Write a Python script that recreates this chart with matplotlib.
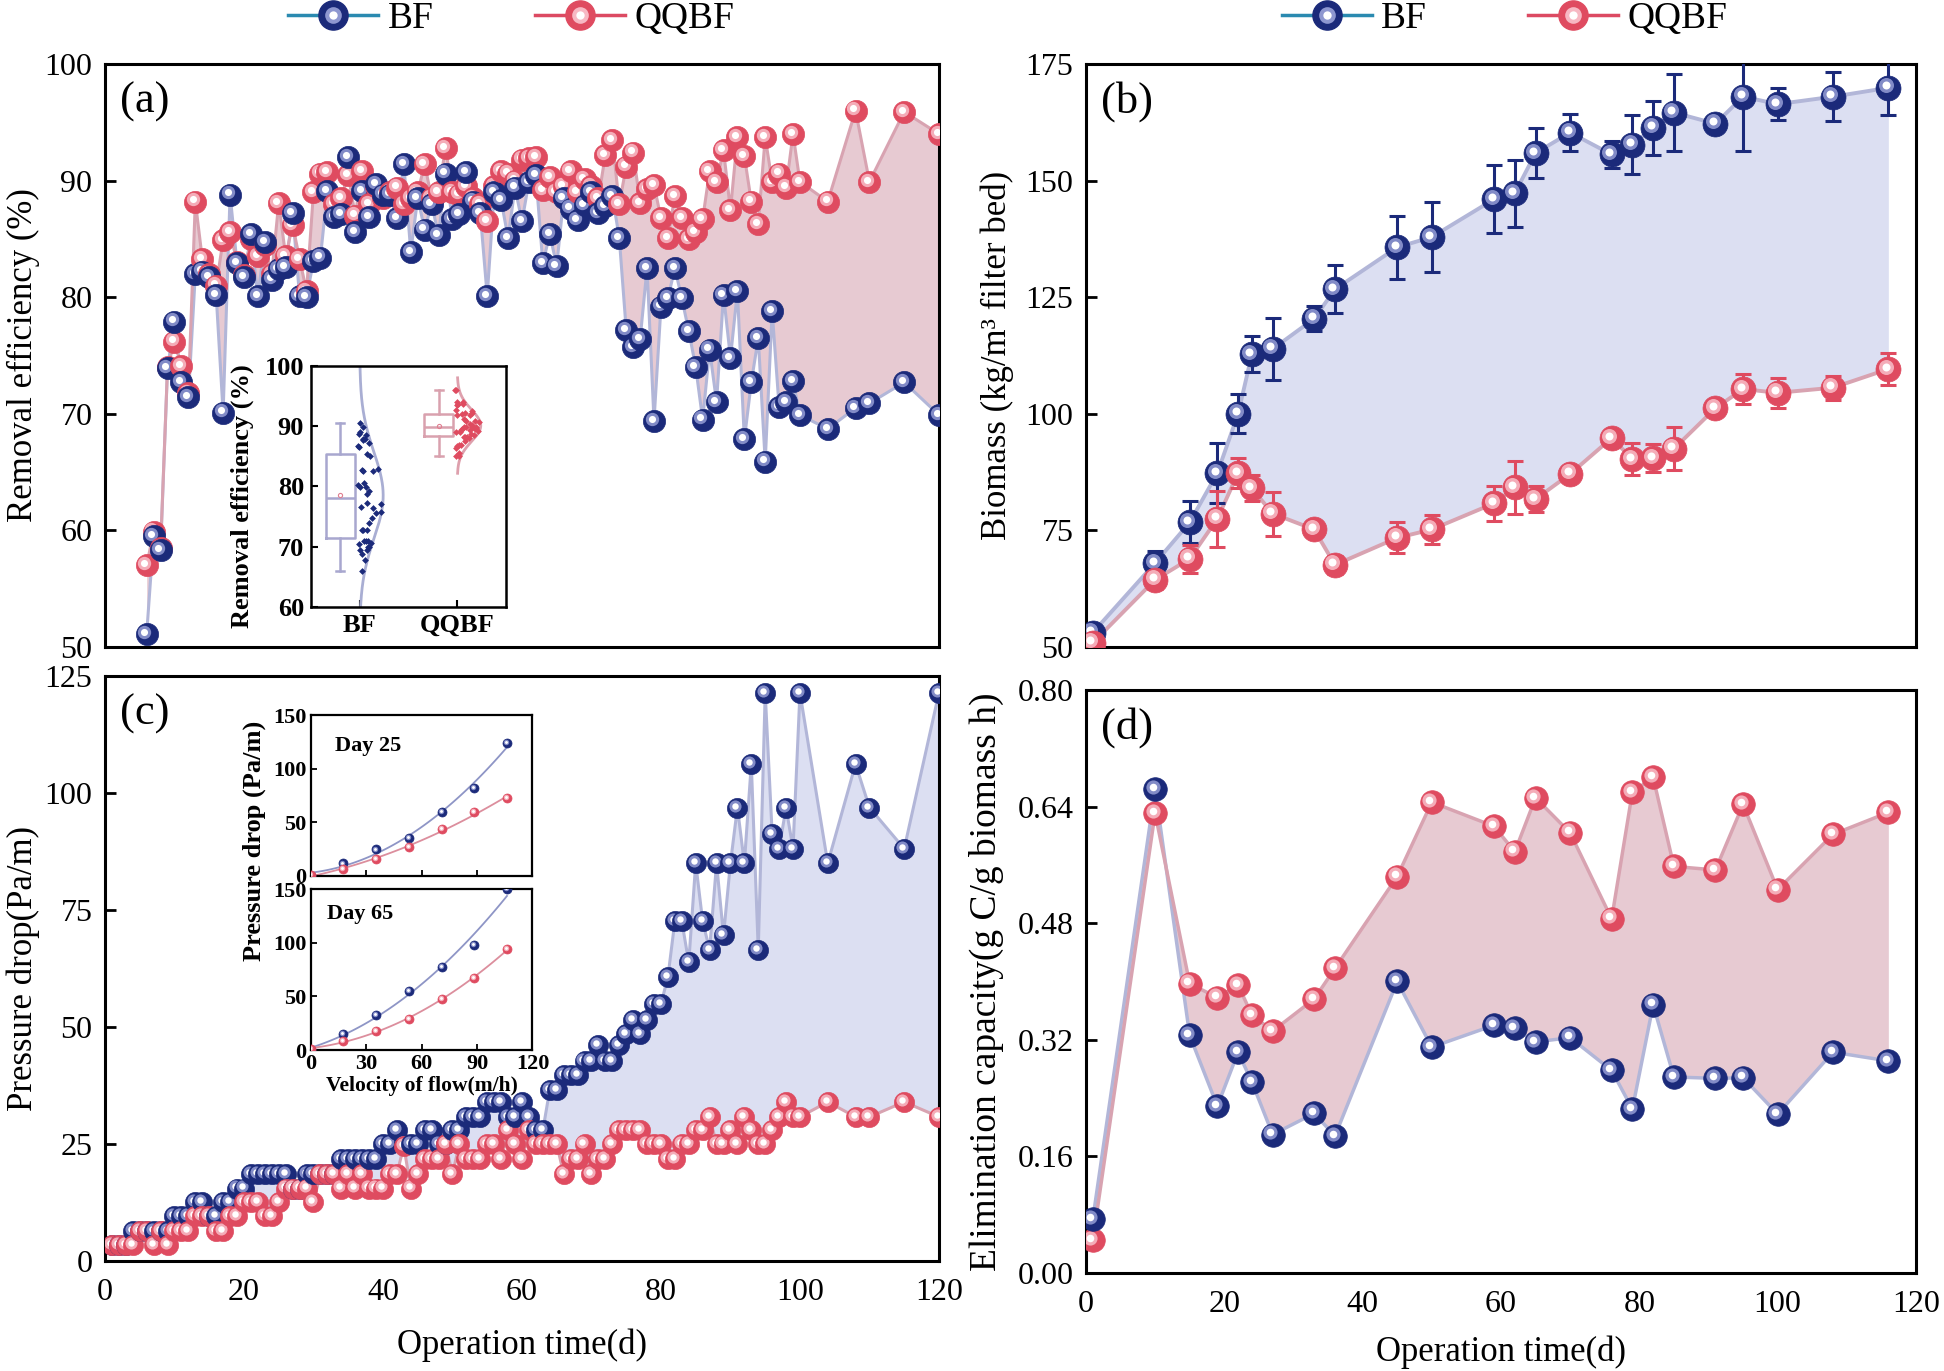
import numpy as np
import matplotlib.pyplot as plt
from matplotlib.transforms import offset_copy
from matplotlib.lines import Line2D
from matplotlib.legend_handler import HandlerTuple

plt.rcParams['font.family'] = ['Liberation Serif', 'DejaVu Serif']

# ---------------- data ----------------
# (a) removal efficiency (%)
days_a = list(range(6, 101)) + [104, 108, 110, 115, 120]
bf_a = [51.1, 59.5, 58.3, 73.9, 77.9, 72.7, 71.4, 82.0, 82.2, 81.7,
        80.2, 70.1, 88.8, 82.9, 81.7, 85.4, 80.1, 84.7, 81.5, 82.4,
        82.6, 87.2, 80.1, 80.0, 83.1, 83.4, 89.1, 86.9, 87.1, 92.0,
        85.6, 89.1, 86.9, 89.7, 88.8, 88.8, 86.8, 91.4, 83.9, 88.5,
        85.8, 88.0, 85.3, 90.6, 86.7, 87.1, 90.7, 88.2, 87.2, 80.1,
        89.0, 88.3, 85.1, 89.4, 86.5, 89.9, 90.5, 82.9, 85.4, 82.7,
        88.5, 87.6, 86.6, 87.9, 89.0, 87.2, 87.8, 88.7, 85.1, 77.2,
        75.7, 76.4, 82.5, 69.4, 79.2, 79.9, 82.5, 79.9, 77.1, 74.0,
        69.5, 75.5, 71.0, 80.2, 74.8, 80.5, 67.8, 72.7, 76.5, 65.9,
        78.8, 70.6, 71.0, 72.8, 69.9,
        68.7, 70.5, 70.9, 72.7, 69.9]
qq_a = [57.0, 59.9, 58.5, 74.0, 76.2, 74.1, 71.8, 88.2, 83.3, 82.0,
        81.0, 84.9, 85.6, 83.0, 81.9, 85.0, 83.5, 84.5, 82.0, 88.1,
        83.5, 86.2, 83.3, 80.5, 89.0, 90.6, 90.7, 88.0, 88.5, 90.5,
        87.0, 90.8, 88.0, 89.5, 88.5, 89.0, 89.4, 88.0, 88.5, 89.0,
        91.4, 88.5, 89.0, 92.8, 89.0, 88.8, 89.5, 88.5, 88.0, 86.5,
        89.5, 90.8, 90.6, 90.0, 91.8, 91.9, 92.0, 89.2, 90.3, 89.0,
        89.5, 90.8, 89.0, 90.1, 89.5, 88.5, 92.2, 93.5, 88.0, 91.2,
        92.4, 88.1, 89.3, 89.6, 86.8, 85.1, 88.7, 86.8, 85.0, 85.6,
        86.7, 90.8, 89.9, 92.6, 87.5, 93.7, 92.1, 88.2, 86.3, 93.7,
        89.9, 90.6, 89.4, 94.0, 89.9,
        88.2, 96.0, 89.9, 95.9, 94.0]

# (b) biomass and (d) elimination capacity
days_b = [1, 10, 15, 19, 22, 24, 27, 33, 36, 45, 50, 59, 62, 65, 70, 76, 79, 82,
          85, 91, 95, 100, 108, 116]
bf_b = [53.1, 68.0, 76.7, 87.3, 100.0, 112.8, 113.9, 120.4, 126.7, 135.7, 137.9,
        146.0, 147.3, 155.9, 160.3, 155.6, 157.7, 161.3, 164.6, 162.2, 168.0,
        166.4, 168.0, 169.9]
bf_b_err = [1.5, 2.5, 4.5, 6.5, 4.2, 3.8, 6.7, 2.7, 5.1, 6.8, 7.6, 7.3, 7.2, 5.4,
            4.0, 3.0, 6.3, 5.8, 8.2, 1.5, 11.6, 3.5, 5.3, 5.8]
qq_b = [50.9, 64.4, 68.9, 77.5, 87.3, 84.0, 78.6, 75.2, 67.6, 73.4, 75.2, 80.8,
        84.2, 81.7, 87.1, 94.8, 90.3, 90.5, 92.5, 101.2, 105.3, 104.5, 105.6, 109.6]
qq_b_err = [1.0, 2.0, 3.0, 6.0, 3.3, 2.8, 4.7, 1.0, 2.0, 3.3, 3.2, 3.8, 5.7, 2.8,
            1.5, 1.0, 3.4, 3.0, 4.6, 1.0, 3.2, 3.2, 2.6, 3.5]
bf_d = [0.074, 0.664, 0.326, 0.229, 0.303, 0.262, 0.190, 0.219, 0.188, 0.400,
        0.310, 0.340, 0.336, 0.317, 0.323, 0.278, 0.225, 0.368, 0.269, 0.267,
        0.268, 0.218, 0.303, 0.291]
qq_d = [0.045, 0.631, 0.397, 0.378, 0.395, 0.354, 0.332, 0.376, 0.418, 0.544,
        0.646, 0.613, 0.578, 0.652, 0.604, 0.486, 0.660, 0.680, 0.558, 0.553,
        0.643, 0.526, 0.602, 0.632]

# (c) pressure drop (Pa/m)
days_c = list(range(1, 101)) + [104, 108, 110, 115, 120]
bf_c = [3.4, 3.4, 3.4, 6.5, 6.5, 6.5, 6.5, 6.5, 6.5, 9.7,
        9.7, 9.7, 12.6, 12.6, 9.7, 9.7, 12.6, 12.6, 15.5, 15.5,
        18.6, 18.6, 18.6, 18.6, 18.6, 18.6, 15.5, 15.5, 18.6, 18.6,
        18.6, 18.6, 18.6, 21.8, 21.8, 21.8, 21.8, 21.8, 21.8, 25.0,
        25.0, 27.9, 25.0, 25.0, 25.0, 27.9, 27.9, 25.0, 25.0, 27.9,
        27.9, 30.8, 30.8, 30.8, 34.0, 34.0, 34.0, 30.8, 30.8, 34.0,
        30.8, 27.9, 27.9, 36.6, 36.6, 39.8, 39.8, 39.8, 42.7, 42.7,
        46.1, 42.7, 42.7, 46.1, 48.5, 51.5, 48.5, 51.5, 54.9, 54.9,
        60.7, 72.6, 72.6, 63.8, 85.0, 72.6, 66.5, 85.0, 69.6, 85.0,
        96.9, 85.0, 106.2, 66.5, 121.4, 91.3, 88.1, 96.9, 88.1, 121.4,
        85.0, 106.2, 96.9, 88.1, 121.4]
qq_c = [3.4, 3.4, 3.4, 3.4, 6.5, 6.5, 3.4, 6.5, 3.4, 6.5,
        6.5, 6.5, 9.7, 9.7, 9.7, 6.5, 6.5, 9.7, 9.7, 12.6,
        12.6, 12.6, 9.7, 9.7, 12.6, 15.5, 15.5, 15.5, 15.5, 12.6,
        18.6, 18.6, 18.6, 15.5, 18.6, 15.5, 18.6, 15.5, 15.5, 15.5,
        18.6, 18.6, 24.6, 15.5, 18.6, 21.8, 21.8, 21.8, 25.0, 18.6,
        25.0, 21.8, 21.8, 21.8, 25.0, 25.0, 21.8, 27.9, 25.0, 21.8,
        27.9, 25.0, 25.0, 25.0, 25.0, 18.6, 21.8, 21.8, 25.0, 18.6,
        21.8, 21.8, 25.0, 27.9, 27.9, 27.9, 27.9, 25.0, 25.0, 25.0,
        21.8, 21.8, 25.0, 25.0, 27.9, 27.9, 30.8, 25.0, 25.0, 27.9,
        25.0, 30.8, 27.9, 25.0, 25.0, 27.9, 30.8, 34.0, 30.8, 30.8,
        34.0, 30.8, 30.8, 34.0, 30.8]

# (c) insets: pressure drop vs velocity of flow
velocity = [0, 17.7, 35.4, 53.1, 70.8, 88.5, 106.2]
bf_day25 = [0.0, 11.5, 24.6, 35.5, 59.8, 81.6, 123.7]
qq_day25 = [0.6, 6.2, 15.3, 26.5, 43.6, 59.2, 72.3]
bf_day65 = [0.0, 14.9, 32.6, 55.3, 77.6, 97.8, 149.7]
qq_day65 = [0.6, 8.7, 18.0, 28.9, 47.2, 66.8, 94.1]

# ---------------- style ----------------
NAVY, NAVY_HI = '#1b2a7a', '#8e97d0'
RED, RED_HI = '#df4b60', '#f7b8c3'
BF_LINE, QQ_LINE = '#b2b6d8', '#d8a3b1'
PINK_FILL, BLUE_FILL = '#e7cad2', '#dcdff2'

fig = plt.figure(figsize=(19.44, 13.71), dpi=100)


def ball(ax, x, y, col, hi, ms, z=5):
    ax.plot([x], [y], 'o', ms=ms, mfc=col, mec=col, mew=0.5, zorder=z)
    t = offset_copy(ax.transData, fig=fig, x=-0.1 * ms, y=0.1 * ms, units='points')
    ax.plot([x], [y], 'o', ms=0.6 * ms, mfc=hi, mec='none', alpha=0.9,
            zorder=z, transform=t)
    ax.plot([x], [y], 'o', ms=0.32 * ms, mfc='white', mec='none', zorder=z,
            transform=t)


def style(ax, ylim, yticks, xlabels=False):
    ax.set_xlim(0, 120)
    ax.set_ylim(*ylim)
    ax.set_yticks(yticks)
    ax.set_xticks(range(0, 121, 20))
    ax.tick_params(axis='y', direction='in', length=8, width=2, labelsize=23, pad=9)
    ax.tick_params(axis='x', length=0, labelsize=23, pad=12, labelbottom=xlabels)
    for s in ax.spines.values():
        s.set_linewidth(2.2)


def bold_ticks(ax, size):
    for lab in ax.get_xticklabels() + ax.get_yticklabels():
        lab.set_fontweight('bold')
        lab.set_fontsize(size)


ax_a = fig.add_axes([0.0540, 0.5281, 0.4290, 0.4252])
ax_b = fig.add_axes([0.5586, 0.5281, 0.4270, 0.4252])
ax_c = fig.add_axes([0.0540, 0.0802, 0.4290, 0.4267])
ax_d = fig.add_axes([0.5586, 0.0715, 0.4270, 0.4252])

# ---- (a) ----
ax_a.fill_between(days_a, bf_a, qq_a, color=PINK_FILL, lw=0, zorder=1)
ax_a.plot(days_a, bf_a, color=BF_LINE, lw=2.2, zorder=2)
ax_a.plot(days_a, qq_a, color=QQ_LINE, lw=2.2, zorder=2)
for d, b, q in zip(days_a, bf_a, qq_a):
    ball(ax_a, d, q, RED, RED_HI, 16)
    ball(ax_a, d, b, NAVY, NAVY_HI, 16)
style(ax_a, (50, 100), range(50, 101, 10))
ax_a.set_ylabel('Removal efficiency (%)', fontsize=25)
ax_a.yaxis.set_label_coords(-0.078, 0.5)

ins = ax_a.inset_axes([0.247, 0.0686, 0.234, 0.414])
bf_late = np.array([v for d, v in zip(days_a, bf_a) if d >= 60])
qq_late = np.array([v for d, v in zip(days_a, qq_a) if d >= 60])
bp = ins.boxplot([bf_late, qq_late], positions=[0.3, 1.31], widths=0.3,
                 whis=(0, 100), showmeans=True, showfliers=False, capwidths=0.08,
                 meanprops=dict(marker='o', ms=3, mfc='none', mec='#e07f90', mew=0.8))
for i, c in enumerate(['#a8a7cf', '#d9a1ae']):
    for art in [bp['boxes'][i], bp['medians'][i], bp['whiskers'][2 * i],
                bp['whiskers'][2 * i + 1], bp['caps'][2 * i], bp['caps'][2 * i + 1]]:
        art.set_color(c)
        art.set_linewidth(1.8)
for vals, base, col, lc in ((bf_late, 0.5, NAVY, '#a9aed3'), (qq_late, 1.5, RED, '#dea0ad')):
    m, s = vals.mean(), vals.std()
    yy = np.linspace(m - 3 * s, m + 3 * s, 200)
    ins.plot(base + 0.24 * np.exp(-0.5 * ((yy - m) / s) ** 2), yy, color=lc, lw=2)
    u = (np.arange(len(vals)) * 0.618034 + 0.1) % 1
    xs = base - 0.02 + 0.26 * np.exp(-0.5 * ((vals - m) / s) ** 2) * u
    ins.scatter(xs, vals, marker='D', s=12, color=col, lw=0, zorder=3)
ins.set_xlim(0, 2)
ins.set_ylim(60, 100)
ins.set_xticks([0.5, 1.5], ['BF', 'QQBF'])
ins.set_yticks(range(60, 101, 10))
ins.tick_params(direction='in', length=5, width=1.5, pad=5)
bold_ticks(ins, 19)
for s in ins.spines.values():
    s.set_linewidth(1.8)
ins.set_ylabel('Removal efficiency (%)', fontsize=19, fontweight='bold')
ins.yaxis.set_label_coords(-0.29, 0.46)

# ---- (b) ----
ax_b.fill_between(days_b, bf_b, qq_b, color=BLUE_FILL, lw=0, zorder=1)
ax_b.plot(days_b, bf_b, color=BF_LINE, lw=2.8, zorder=2)
ax_b.plot(days_b, qq_b, color=QQ_LINE, lw=2.8, zorder=2)
ax_b.errorbar(days_b, bf_b, yerr=bf_b_err, fmt='none', ecolor=NAVY, elinewidth=2.2,
              capsize=6, capthick=2.2, zorder=3)
ax_b.errorbar(days_b, qq_b, yerr=qq_b_err, fmt='none', ecolor=RED, elinewidth=2.2,
              capsize=6, capthick=2.2, zorder=3)
for d, b in zip(days_b, bf_b):
    ball(ax_b, d, b, NAVY, NAVY_HI, 18)
for d, q in zip(days_b, qq_b):
    ball(ax_b, d, q, RED, RED_HI, 18)
style(ax_b, (50, 175), range(50, 176, 25))
ax_b.set_ylabel('Biomass (kg/m³ filter bed)', fontsize=25)
ax_b.yaxis.set_label_coords(-0.087, 0.5)

# ---- (c) ----
ax_c.fill_between(days_c, bf_c, qq_c, color=BLUE_FILL, lw=0, zorder=1)
ax_c.plot(days_c, bf_c, color=BF_LINE, lw=2.2, zorder=2)
ax_c.plot(days_c, qq_c, color=QQ_LINE, lw=2.2, zorder=2)
for d, b, q in zip(days_c, bf_c, qq_c):
    ball(ax_c, d, b, NAVY, NAVY_HI, 14.5)
    ball(ax_c, d, q, RED, RED_HI, 14.5)
style(ax_c, (0, 125), range(0, 126, 25), xlabels=True)
ax_c.set_ylabel('Pressure drop(Pa/m)', fontsize=25)
ax_c.yaxis.set_label_coords(-0.078, 0.5)
ax_c.set_xlabel('Operation time(d)', fontsize=25)
ax_c.xaxis.set_label_coords(0.5, -0.115)

xs_fit = np.linspace(0, 106.2, 100)
for pos, bfv, qqv, lab, ly, lx, bottom in (
        ([0.2466, 0.6586, 0.266, 0.2747], bf_day25, qq_day25, 'Day 25', 0.81, 0.11, False),
        ([0.2466, 0.3607, 0.266, 0.2752], bf_day65, qq_day65, 'Day 65', 0.845, 0.075, True)):
    ci = ax_c.inset_axes(pos)
    for vals, c in ((bfv, '#8e95c6'), (qqv, '#dc8e9d')):
        p = np.polyfit(velocity, vals, 2)
        ci.plot(xs_fit, np.polyval(p, xs_fit), color=c, lw=1.3)
    for v, b, q in zip(velocity, bfv, qqv):
        ball(ci, v, b, NAVY, NAVY_HI, 6.5)
        ball(ci, v, q, RED, RED_HI, 6.5)
    ci.set_xlim(0, 120)
    ci.set_ylim(0, 150)
    ci.set_xticks(range(0, 121, 30))
    ci.set_yticks(range(0, 151, 50))
    ci.tick_params(direction='in', length=4, width=1.3, pad=3, labelbottom=bottom)
    bold_ticks(ci, 16)
    for s in ci.spines.values():
        s.set_linewidth(1.6)
    ci.text(lx, ly, lab, transform=ci.transAxes, fontsize=16, fontweight='bold',
            va='center')
    if bottom:
        ci.set_xlabel('Velocity of flow(m/h)', fontsize=15.5, fontweight='bold',
                      labelpad=1)
fig.text(0.1307, 0.387, 'Pressure drop (Pa/m)', rotation=90, fontsize=19,
         fontweight='bold', ha='center', va='center')

# ---- (d) ----
ax_d.fill_between(days_b, bf_d, qq_d, color=PINK_FILL, lw=0, zorder=1)
ax_d.plot(days_b, bf_d, color=BF_LINE, lw=2.5, zorder=2)
ax_d.plot(days_b, qq_d, color=QQ_LINE, lw=2.5, zorder=2)
for d, b, q in zip(days_b, bf_d, qq_d):
    ball(ax_d, d, q, RED, RED_HI, 17)
    ball(ax_d, d, b, NAVY, NAVY_HI, 17)
style(ax_d, (0, 0.8), np.arange(0, 0.81, 0.16), xlabels=True)
ax_d.set_yticklabels([f'{v:.2f}' for v in np.arange(0, 0.81, 0.16)])
ax_d.set_ylabel('Elimination capacity(g C/g biomass h)', fontsize=27)
ax_d.yaxis.set_label_coords(-0.099, 0.5)
ax_d.set_xlabel('Operation time(d)', fontsize=25)
ax_d.xaxis.set_label_coords(0.5, -0.107)

for ax, lab in ((ax_a, '(a)'), (ax_b, '(b)'), (ax_c, '(c)'), (ax_d, '(d)')):
    ax.text(0.018, 0.935, lab, transform=ax.transAxes, fontsize=32, va='center')

# ---- legends ----
def handle(line_col, col, hi):
    h1 = Line2D([], [], color=line_col, lw=2.5, marker='o', ms=21, mfc=col, mec=col)
    h2 = Line2D([], [], ls='none', marker='o', ms=12, mfc=hi, mec='none')
    h3 = Line2D([], [], ls='none', marker='o', ms=6, mfc='white', mec='none')
    return (h1, h2, h3)


for xc in (0.263, 0.774):
    fig.legend([handle('#2a8ab0', NAVY, NAVY_HI), handle('#dc4a62', RED, RED_HI)],
               ['BF', 'QQBF'], loc='center', bbox_to_anchor=(xc, 0.986), ncol=2,
               frameon=False, fontsize=27, handlelength=2.4, handletextpad=0.25,
               columnspacing=2.7, borderpad=0,
               handler_map={tuple: HandlerTuple(ndivide=1, pad=0)})

fig.savefig('out.png', dpi=100)
